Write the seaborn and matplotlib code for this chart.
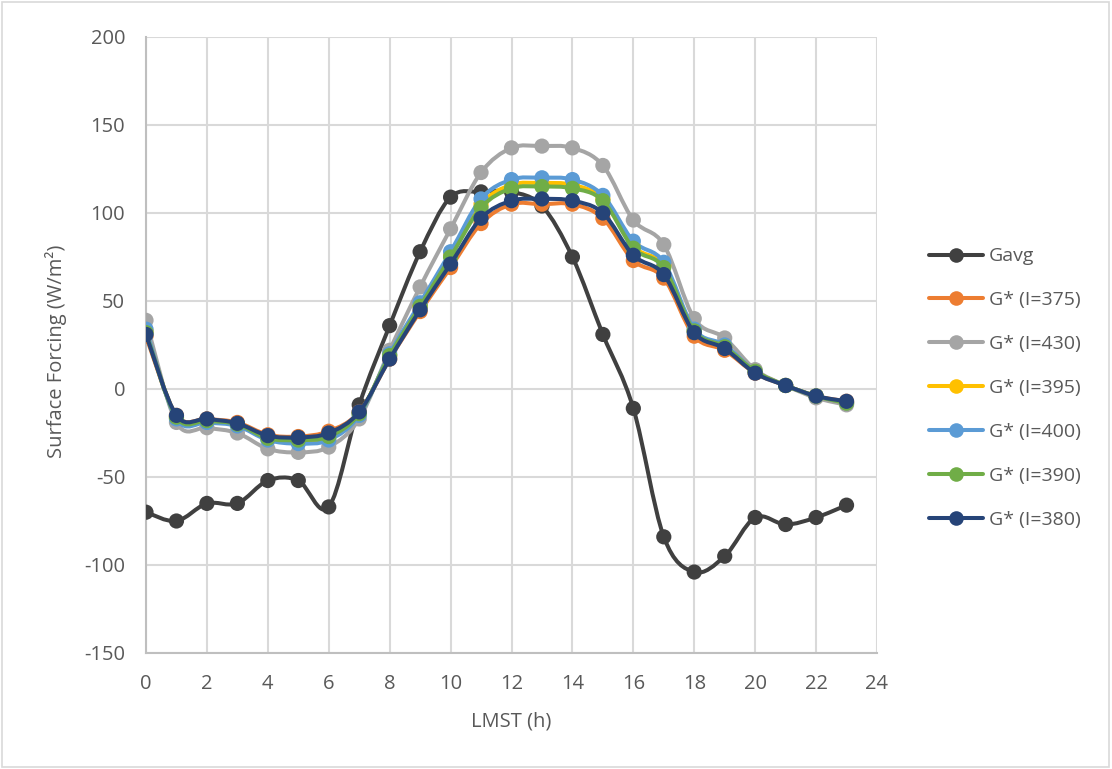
import numpy as np
import pandas as pd
import matplotlib
matplotlib.use("Agg")
import matplotlib.pyplot as plt
from matplotlib.path import Path
from matplotlib.patches import PathPatch, Rectangle
from matplotlib.lines import Line2D
import seaborn as sns

# Hourly surface forcing (W/m²) over a local mean solar day
hours = list(range(24))
gavg = [-70, -75, -65, -65, -52, -52, -67, -9, 36, 78, 109, 112, 112, 104, 75, 31,
        -11, -84, -104, -95, -73, -77, -73, -66]
g375 = [30, -15, -17, -19, -26, -27, -24, -13, 17, 44, 69, 94, 105, 105, 105, 97,
        73, 63, 30, 22, 9, 2, -4, -7]
g430 = [39, -19, -22, -25, -34, -36, -33, -17, 22, 58, 91, 123, 137, 138, 137, 127,
        96, 82, 40, 29, 11, 2, -5, -9]
g395 = [33, -16, -18, -20, -28, -30, -28, -14, 19, 47, 76, 105, 116, 117, 116, 108,
        81, 70, 33, 24, 10, 2, -4, -8]
g400 = [34, -17, -19, -21, -29, -31, -29, -15, 20, 49, 78, 108, 119, 120, 119, 110,
        84, 72, 34, 25, 10, 2, -4, -8]
g390 = [32, -16, -18, -20, -28, -29, -27, -14, 19, 47, 75, 103, 114, 115, 114, 107,
        80, 69, 33, 24, 10, 2, -4, -8]
g380 = [31, -15, -17, -19.5, -26.5, -27.5, -25, -13, 17, 45, 71, 97, 107, 108, 107, 100,
        76, 65, 32, 23, 9, 2, -4, -7]

series_names = ["Gavg", "G* (I=375)", "G* (I=430)", "G* (I=395)",
                "G* (I=400)", "G* (I=390)", "G* (I=380)"]
series_values = [gavg, g375, g430, g395, g400, g390, g380]
colors = ["#404040", "#ED7D31", "#A5A5A5", "#FFC000", "#5B9BD5", "#70AD47", "#264478"]

x_ticks = list(range(0, 25, 2))
y_ticks = list(range(-150, 201, 50))

sns.set_theme(style="white")
plt.rcParams["font.family"] = ["Open Sans", "DejaVu Sans"]
plt.rcParams["axes.unicode_minus"] = False
text_color = "#595959"
grid_color = "#D9D9D9"

fig = plt.figure(figsize=(11.12, 7.69), dpi=100)
ax = fig.add_axes([146 / 1112, 1 - 653 / 769, (877 - 146) / 1112, (653 - 37) / 769])


def smooth_path(xs, ys):
    """Cubic Bezier path through the points (Catmull-Rom style tangents)."""
    pts = np.column_stack([xs, ys]).astype(float)
    n = len(pts)
    verts = [pts[0]]
    codes = [Path.MOVETO]
    for i in range(n - 1):
        p0 = pts[i - 1] if i > 0 else pts[i]
        p1 = pts[i]
        p2 = pts[i + 1]
        p3 = pts[i + 2] if i + 2 < n else pts[i + 1]
        c1 = p1 + (p2 - p0) / 6.0
        c2 = p2 - (p3 - p1) / 6.0
        verts += [c1, c2, p2]
        codes += [Path.CURVE4] * 3
    return Path(verts, codes)


df = pd.DataFrame({"hour": hours})
for i, (name, vals, col) in enumerate(zip(series_names, series_values, colors)):
    df[name] = vals
    patch = PathPatch(smooth_path(hours, vals), fill=False, edgecolor=col,
                      linewidth=2.9, zorder=3 + 2 * i, capstyle="round",
                      joinstyle="round")
    ax.add_patch(patch)
    sns.scatterplot(data=df, x="hour", y=name, ax=ax, color=col, s=120,
                    edgecolor="none", linewidth=0, zorder=4 + 2 * i, legend=False)

ax.set_xlim(0, 24)
ax.set_ylim(-150, 200)
ax.set_xticks(x_ticks)
ax.set_yticks(y_ticks)
ax.tick_params(axis="both", labelsize=14.5, colors=text_color, length=0)
ax.tick_params(axis="x", pad=15)
ax.tick_params(axis="y", pad=15)
ax.grid(True, color=grid_color, linewidth=1.5)
ax.set_axisbelow(True)
for side in ["top", "right"]:
    ax.spines[side].set_visible(False)
for side in ["left", "bottom"]:
    ax.spines[side].set_color("#BFBFBF")
    ax.spines[side].set_linewidth(1.5)

ax.set_xlabel("LMST (h)", fontsize=14.5, color=text_color)
ax.set_ylabel("Surface Forcing (W/m²)", fontsize=14.5, color=text_color)
ax.xaxis.set_label_coords(0.5, -0.095)
ax.yaxis.set_label_coords(-0.108, 0.49)

handles = [Line2D([0], [0], color=c, linewidth=2.9, marker="o", markersize=10.5,
                  markeredgewidth=0) for c in colors]
fig.legend(handles, series_names, loc="center left",
           bbox_to_anchor=(919 / 1112, 1 - 388 / 769), frameon=False,
           fontsize=14, labelcolor=text_color, handlelength=2.8, borderpad=0,
           labelspacing=1.33, handletextpad=0.3)

fig.patches.append(Rectangle((0.002, 0.002), 0.995, 0.995, transform=fig.transFigure,
                             fill=False, edgecolor="#D9D9D9", linewidth=1.2))

fig.savefig("out.png", dpi=100, facecolor="white")
